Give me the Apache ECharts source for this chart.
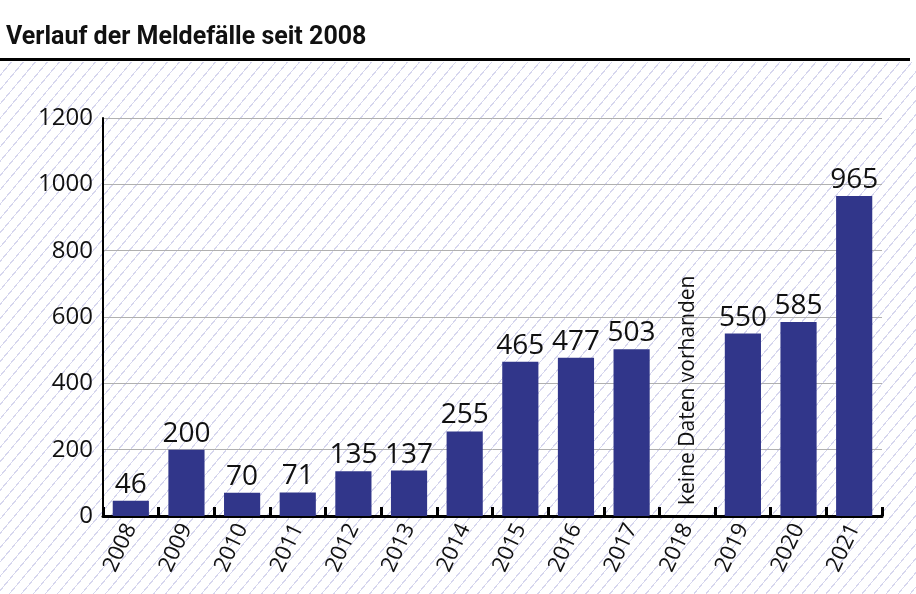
<!DOCTYPE html>
<html>
<head>
<meta charset="utf-8">
<script src="https://cdn.jsdelivr.net/npm/echarts@6/dist/echarts.min.js"></script>
<style>
  html, body { margin: 0; padding: 0; background: #fff; }
  #wrap { position: relative; width: 916px; height: 594px; }
  #hatch { position: absolute; left: 0; top: 62px; width: 916px; height: 532px;
    background: repeating-linear-gradient(130deg, #ffffff 0px, #ffffff 8.1px, #d6d6ee 8.1px, #d6d6ee 9.2px); }
  #chart { position: absolute; left: 0; top: 0; width: 916px; height: 594px; }
</style>
</head>
<body>
<div id="wrap"><div id="hatch"></div><div id="chart"></div></div>
<script>
const years = ['2008','2009','2010','2011','2012','2013','2014','2015','2016','2017','2018','2019','2020','2021'];
const cases = [46, 200, 70, 71, 135, 137, 255, 465, 477, 503, null, 550, 585, 965];
const yTicks = [0, 200, 400, 600, 800, 1000, 1200];
const titleText = 'Verlauf der Meldefälle seit 2008';
const noDataText = 'keine Daten vorhanden';
const noDataYear = '2018';

const chart = echarts.init(document.getElementById('chart'), null, { renderer: 'canvas' });
const font = '"Open Sans", "Liberation Sans", sans-serif';
const rule = { type: 'rect', shape: { x: 0, y: 58, width: 910, height: 3 }, style: { fill: '#000' } };
chart.setOption({
  backgroundColor: 'transparent',
  animation: false,
  title: {
    text: titleText, left: 1, top: 20,
    textStyle: { fontFamily: 'Roboto, "Liberation Sans", sans-serif', fontSize: 25, fontWeight: 'bold', color: '#111' }
  },
  grid: { left: 103, right: 34, top: 118, bottom: 78 },
  xAxis: {
    type: 'category', data: years,
    axisLine: { lineStyle: { color: '#000', width: 3 } },
    axisTick: { show: true, inside: true, length: 9, lineStyle: { color: '#000', width: 3 } },
    axisLabel: { rotate: 65, fontFamily: font, fontSize: 22, color: '#111', margin: 9 }
  },
  yAxis: {
    type: 'value', min: 0, max: 1200, interval: 200,
    axisLine: { show: true, lineStyle: { color: '#000', width: 2 } },
    axisTick: { show: false },
    axisLabel: { fontFamily: font, fontSize: 24, color: '#111', margin: 10,
      formatter: v => yTicks.includes(v) ? String(v) : '' },
    splitLine: { lineStyle: { color: '#b0b0b0', width: 1 } }
  },
  series: [{
    type: 'bar', data: cases, barCategoryGap: '35%',
    itemStyle: { color: '#31368a' },
    label: { show: true, position: 'top', distance: 2, fontFamily: font, fontSize: 28, color: '#111' }
  }],
  graphic: [rule]
});
const px = chart.convertToPixel({ xAxisIndex: 0 }, noDataYear);
const py = chart.convertToPixel({ yAxisIndex: 0 }, 0);
chart.setOption({
  graphic: [rule, {
    type: 'text', x: px + 1, y: py - 11, rotation: Math.PI / 2,
    style: { text: noDataText, fontFamily: font, fontSize: 21, fill: '#111', textAlign: 'left', textVerticalAlign: 'middle' }
  }]
});
</script>
</body>
</html>
